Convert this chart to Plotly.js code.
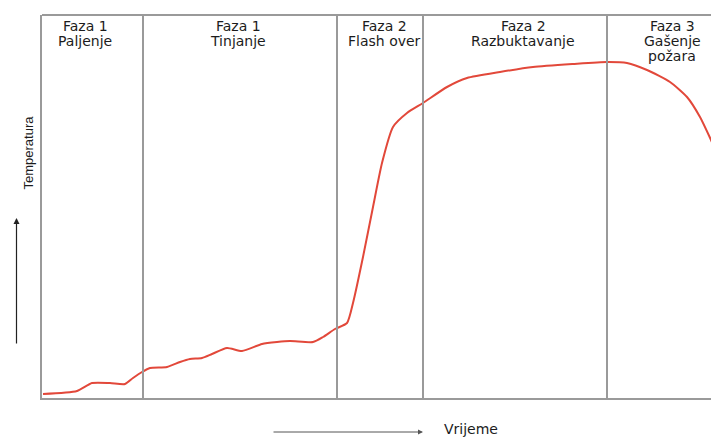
<!DOCTYPE html>
<html><head><meta charset="utf-8">
<script src="https://cdn.plot.ly/plotly-3.0.1.min.js"></script>
<style>html,body{margin:0;padding:0;background:#fff}#chart{width:711px;height:439px}</style>
</head><body><div id="chart"></div>
<script>
// time (arbitrary units) and temperature (arbitrary units)
const time = [1,35,50,68,83,91,100,108,125,138,148,160,170,185,200,220,235,248,271,281,293,305,311,321,331,340,351,365,381,405,425,458,491,531,565,585,605,628,645,658,669,680];
const temperature = [4,7,15,15,14,20,26,30,31,36,39,40,44,50,47,54,56,57,56,61,69,75,95,141,191,235,271,285,295,311,320,326,331,334,336,335,328,316,301,281,258,233];
// phase boundaries (time units)
const phaseBounds = [101, 295, 381, 565];
// phase labels
const phaseLabels = [["Faza 1","Paljenje"],["Faza 1","Tinjanje"],["Faza 2","Flash over"],["Faza 2","Razbuktavanje"],["Faza 3","Gašenje","požara"]];
const yTitle = "Temperatura";
const xTitle = "Vrijeme";

const labelX = [43, 196, 342, 481, 630];
const lineY = [26, 40.5, 55.5];
const W=669, H=383, L=42, T=15;
const py2paper = p => (T+H - p)/H;
const px2paper = p => (p - L)/W;

const font = {family:"DejaVu Sans, sans-serif", size:14, color:"#1c1c1c"};
const annotations = [];
phaseLabels.forEach((lines,i)=>{
  lines.forEach((t,j)=>{
    annotations.push({x:labelX[i], xref:'x', y:py2paper(lineY[j]), yref:'paper', text:t, showarrow:false, xanchor:'center', yanchor:'middle', font:font});
  });
});
annotations.push({x:px2paper(18), y:py2paper(153), xref:'paper', yref:'paper', text:yTitle, textangle:-90, showarrow:false, font:{family:"Liberation Sans, Arial, sans-serif", size:13, color:"#1c1c1c"}});
annotations.push({x:px2paper(442), y:py2paper(439), xref:'paper', yref:'paper', text:xTitle, showarrow:false, xanchor:'left', yanchor:'bottom', font:{family:"DejaVu Sans, sans-serif", size:14, color:"#1c1c1c"}});
// axis direction arrows
annotations.push({x:px2paper(16.5), y:py2paper(218), xref:'paper', yref:'paper', text:'', showarrow:true, ax:0, ay:127, arrowhead:2, arrowsize:1, arrowwidth:1.2, arrowcolor:'#222'});
annotations.push({x:px2paper(423), y:py2paper(432), xref:'paper', yref:'paper', text:'', showarrow:true, ax:-151, ay:0, arrowhead:2, arrowsize:1, arrowwidth:1, arrowcolor:'#555'});

const shapes = phaseBounds.map(b=>({type:'line', xref:'x', yref:'paper', x0:b, x1:b, y0:0, y1:1, line:{color:'#9a9a9a', width:2}}));
shapes.push({type:'line', xref:'paper', yref:'paper', x0:0, x1:1, y0:1, y1:1, line:{color:'#9a9a9a', width:2}});

Plotly.newPlot('chart', [{
  x: time, y: temperature, type:'scatter', mode:'lines',
  line:{color:'#e2483a', width:2, shape:'spline', smoothing:0.6},
  hoverinfo:'skip'
}], {
  width:711, height:439,
  margin:{l:L, r:0, t:T, b:41},
  paper_bgcolor:'#fff', plot_bgcolor:'#fff',
  showlegend:false,
  xaxis:{range:[0,W], showgrid:false, zeroline:false, showticklabels:false, ticks:'', showline:true, linecolor:'#9a9a9a', linewidth:2},
  yaxis:{range:[0,H], showgrid:false, zeroline:false, showticklabels:false, ticks:'', showline:true, linecolor:'#9a9a9a', linewidth:2},
  shapes:shapes,
  annotations:annotations
}, {staticPlot:true});
</script></body></html>
